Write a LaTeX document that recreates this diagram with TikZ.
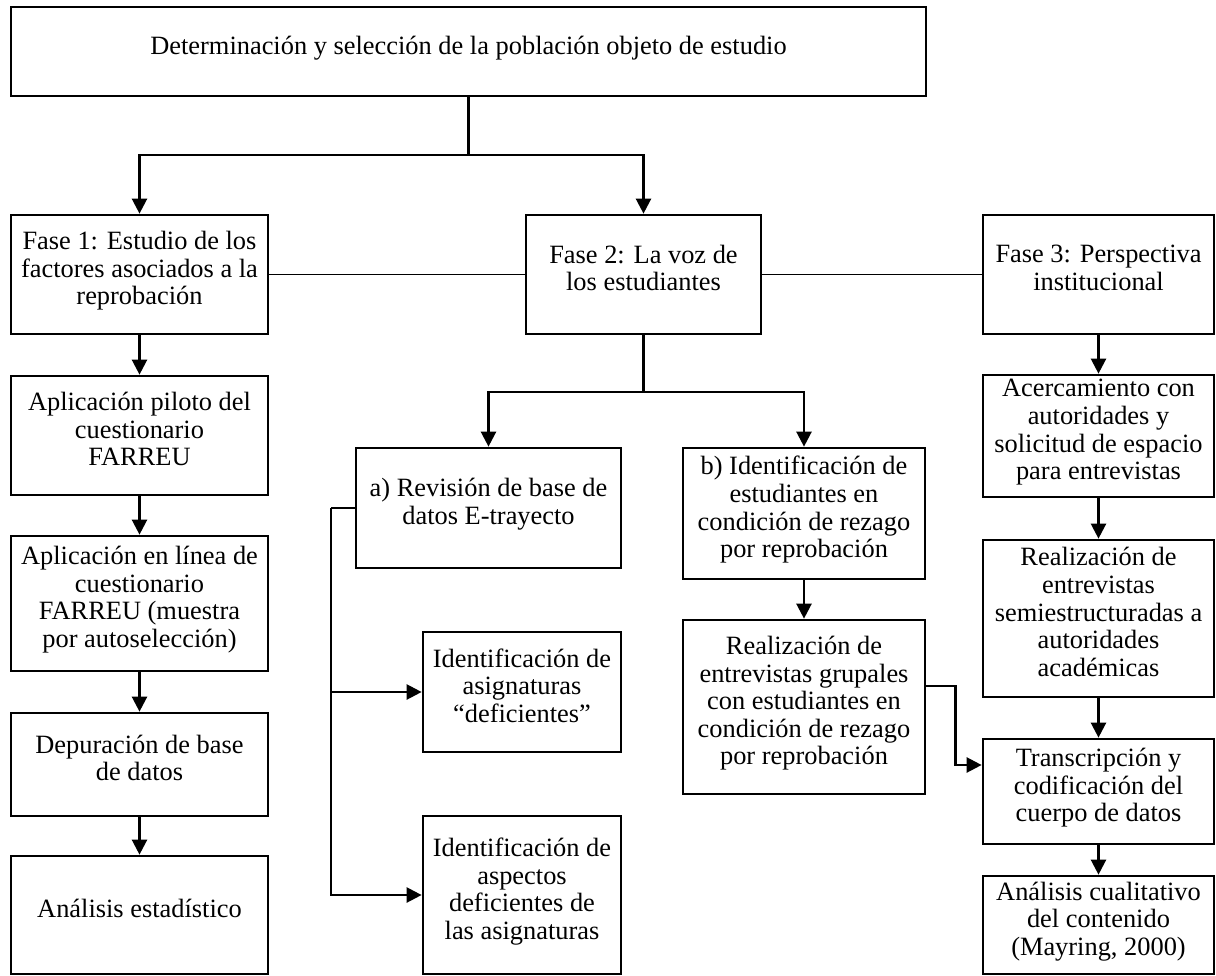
\documentclass[tikz,border=0pt]{standalone}
\usepackage{fontspec}
\setmainfont{Liberation Serif}
\usepackage{tikz}
\usetikzlibrary{arrows.meta}
\tikzset{
    caja/.style={draw, line width=1.35pt, align=center, inner sep=0pt, text depth=6.5pt, font=\fontsize{13.2}{13.8}\selectfont},
    flecha/.style={-{Triangle[length=7.5pt,width=7.5pt]}, line width=1.2pt},
    tronco/.style={line width=1.2pt},
    enlace/.style={line width=0.6pt}
}

\begin{document}
\begin{tikzpicture}[x=0.5pt,y=-0.5pt]
    \useasboundingbox (0,0) rectangle (1216,975);
    \node[caja, minimum width=457.5pt, minimum height=44.5pt] at (468.5,51.5) (top) {Determinación y selección de la población objeto de estudio};

    \node[caja, minimum width=128.5pt, minimum height=59.5pt] at (139.5,274.5) (f1) {Fase 1: Estudio de los\\factores asociados a la\\reprobación};
    \node[caja, minimum width=117.5pt, minimum height=59.5pt] at (643.5,274.5) (f2) {Fase 2: La voz de\\los estudiantes};
    \node[caja, minimum width=115.5pt, minimum height=59.5pt] at (1098.5,274.5) (f3) {Fase 3: Perspectiva\\institucional};

    \node[caja, minimum width=128.5pt, minimum height=59.5pt] at (139.5,435.5) (pil) {Aplicación piloto del\\cuestionario\\FARREU};
    \node[caja, minimum width=128.5pt, minimum height=67.5pt] at (139.5,603.5) (lin) {Aplicación en línea de\\cuestionario\\FARREU (muestra\\por autoselección)};
    \node[caja, minimum width=128.5pt, minimum height=51.5pt] at (139.5,764.5) (dep) {Depuración de base\\de datos};
    \node[caja, minimum width=128.5pt, minimum height=59pt] at (139.5,915) (est) {Análisis estadístico};

    \node[caja, minimum width=132.5pt, minimum height=60pt] at (488.5,508) (revA) {a) Revisión de base de\\datos E-trayecto};
    \node[caja, minimum width=99pt, minimum height=60pt] at (522,692) (asig) {Identificación de\\asignaturas\\“deficientes”};
    \node[caja, minimum width=99pt, minimum height=79pt] at (522,895) (asp) {Identificación de\\aspectos\\deficientes de\\las asignaturas};

    \node[caja, minimum width=121pt, minimum height=65.5pt] at (804,513.5) (revB) {b) Identificación de\\estudiantes en\\condición de rezago\\por reprobación};
    \node[caja, minimum width=121pt, minimum height=87pt] at (804,707) (grup) {Realización de\\entrevistas grupales\\con estudiantes en\\condición de rezago\\por reprobación};

    \node[caja, minimum width=115.5pt, minimum height=61pt] at (1098.5,436) (acer) {Acercamiento con\\autoridades y\\solicitud de espacio\\para entrevistas};
    \node[caja, minimum width=115.5pt, minimum height=78.5pt] at (1098.5,618.5) (semi) {Realización de\\entrevistas\\semiestructuradas a\\autoridades\\académicas};
    \node[caja, minimum width=115.5pt, minimum height=52.5pt] at (1098.5,791.5) (trans) {Transcripción y\\codificación del\\cuerpo de datos};
    \node[caja, minimum width=115.5pt, minimum height=49pt] at (1098.5,925) (cual) {Análisis cualitativo\\del contenido\\(Mayring, 2000)};

    \coordinate (j1) at (468.5,155);
    \coordinate (j2) at (643.5,392);
    \coordinate (j3) at (331,508);

    \draw[tronco] (top.south) -- (j1);
    \draw[flecha] (j1) -| (f1.north);
    \draw[flecha] (j1) -| (f2.north);
    \draw[enlace] (f1.east) -- (f2.west);
    \draw[enlace] (f2.east) -- (f3.west);

    \draw[flecha] (f1.south) -- (pil.north);
    \draw[flecha] (pil.south) -- (lin.north);
    \draw[flecha] (lin.south) -- (dep.north);
    \draw[flecha] (dep.south) -- (est.north);

    \draw[tronco] (f2.south) -- (j2);
    \draw[flecha] (j2) -| (revA.north);
    \draw[flecha] (j2) -| (revB.north);
    \draw[tronco] (revA.west) -- (j3);
    \draw[flecha] (j3) |- (asp.west);
    \draw[flecha] (j3 |- asig.west) -- (asig.west);

    \draw[flecha] (revB.south) -- (grup.north);
    \draw[flecha] ([yshift=10.5pt]grup.east) -- ++(29,0) |- ([yshift=13.25pt]trans.west);

    \draw[flecha] (f3.south) -- (acer.north);
    \draw[flecha] (acer.south) -- (semi.north);
    \draw[flecha] (semi.south) -- (trans.north);
    \draw[flecha] (trans.south) -- (cual.north);
\end{tikzpicture}
\end{document}
